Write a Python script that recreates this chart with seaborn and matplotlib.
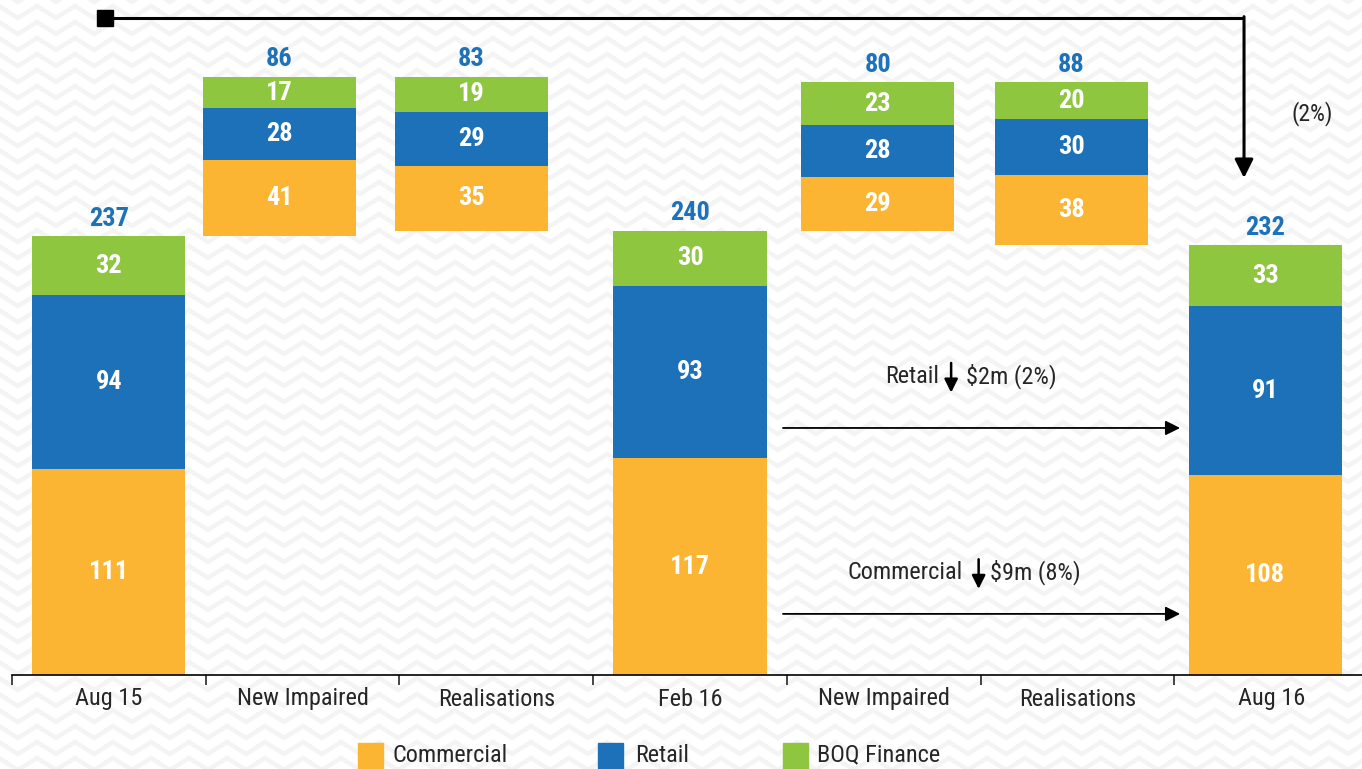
import numpy as np
import pandas as pd
import seaborn as sns
import matplotlib.pyplot as plt
from matplotlib import font_manager
from matplotlib.patches import Rectangle

steps = ["Aug 15", "New Impaired", "Realisations", "Feb 16", "New Impaired", "Realisations", "Aug 16"]
kinds = ["total", "up", "down", "total", "up", "down", "total"]
commercial = [111, 41, 35, 117, 29, 38, 108]
retail = [94, 28, 29, 93, 28, 30, 91]
boq_finance = [32, 17, 19, 30, 23, 20, 33]
totals = [237, 86, 83, 240, 80, 88, 232]

# bar centres as drawn in the slide (slightly off the tick positions)
bar_pos = [0.0, 0.88, 1.87, 3.0, 3.97, 4.97, 5.97]

segments = ["Commercial", "Retail", "BOQ Finance"]
colors = {"Commercial": "#FBB532", "Retail": "#1C71B8", "BOQ Finance": "#8EC63F"}
label_blue = "#1E72BA"

# floating base of each waterfall bar
level = 0
bases = []
for k, t in zip(kinds, totals):
    if k == "total":
        bases.append(0)
        level = t
    elif k == "up":
        bases.append(level)
        level += t
    else:
        level -= t
        bases.append(level)

rows = []
for i in range(len(steps)):
    bottom = bases[i]
    for seg, vals in zip(segments, [commercial, retail, boq_finance]):
        rows.append(dict(pos=bar_pos[i], segment=seg, value=vals[i], bottom=bottom))
        bottom += vals[i]
df = pd.DataFrame(rows)

sns.set_style("white")
names = {f.name for f in font_manager.fontManager.ttflist}
fams = [f for f in ["Roboto Condensed", "Liberation Sans Narrow", "Liberation Sans"] if f in names]
plt.rcParams["font.family"] = fams[:1] + ["DejaVu Sans"]

fig = plt.figure(figsize=(13.62, 7.69), dpi=100)

# faint chevron texture of the slide background
bg = fig.add_axes([0, 0, 1, 1], zorder=-5)
bg.set_xlim(0, 1362)
bg.set_ylim(769, 0)
bg.axis("off")
xs = np.arange(-20, 1400, 19)
for y0 in np.arange(-20, 800, 16):
    ys = y0 + np.where(np.arange(len(xs)) % 2 == 0, 6, -6)
    bg.plot(xs, ys, color="#f4f4f4", lw=3.2, solid_joinstyle="miter")

ax = fig.add_axes([12 / 1362, 94 / 769, 1356 / 1362, 675 / 769])
ax.patch.set_alpha(0)

min_gap = np.min(np.diff(bar_pos))
for seg in segments:
    sub = df[df["segment"] == seg]
    sns.barplot(data=sub, x="pos", y="value", native_scale=True, orient="x",
                bottom=sub["bottom"].to_numpy(), color=colors[seg], saturation=1,
                width=0.79 / min_gap, errorbar=None, linewidth=0, ax=ax)

for _, r in df.iterrows():
    ax.text(r["pos"], r["bottom"] + r["value"] / 2, str(r["value"]), color="white",
            fontsize=19, fontweight="bold", ha="center", va="center")

for i, t in enumerate(totals):
    ax.text(bar_pos[i], bases[i] + t + 9.5, str(t), color=label_blue, fontsize=19,
            fontweight="bold", ha="center", va="center")

ax.set_xlim(-0.5, 6.5)
ax.set_ylim(0, 364.5)
ax.set_xticks(range(len(steps)))
ax.set_xticklabels(steps, fontsize=17.5)
ax.set_xticks(np.arange(-0.5, 7, 1), minor=True)
ax.tick_params(axis="x", which="major", length=0, pad=9)
ax.tick_params(axis="x", which="minor", length=7, width=1.2, direction="out", bottom=True)
ax.set_xlabel("")
ax.set_ylabel("")
ax.set_yticks([])
for s in ["top", "right", "left"]:
    ax.spines[s].set_visible(False)
ax.spines["bottom"].set_linewidth(1.2)
ax.spines["bottom"].set_color("black")

# top connector Aug 15 -> Aug 16
ax.plot([0, 5.86], [354.7, 354.7], color="black", lw=2.2, solid_capstyle="butt")
ax.plot([-0.02], [354.7], marker="s", color="black", markersize=11)
ax.annotate("", xy=(5.86, 268.4), xytext=(5.86, 355.5),
            arrowprops=dict(arrowstyle="-|>", color="black", lw=2.2, mutation_scale=28,
                            shrinkA=0, shrinkB=0))
ax.text(6.21, 303, "(2%)", fontsize=17, ha="center", va="center")

# movement arrows
for y in [133.4, 33]:
    ax.annotate("", xy=(5.53, y), xytext=(3.48, y),
                arrowprops=dict(arrowstyle="-|>", color="black", lw=1.3, mutation_scale=22,
                                shrinkA=0, shrinkB=0))

ax.text(4.286, 161.4, "Retail", fontsize=17.5, ha="right", va="center")
ax.annotate("", xy=(4.348, 152.5), xytext=(4.348, 168.5),
            arrowprops=dict(arrowstyle="-|>", color="black", lw=1.8, mutation_scale=20,
                            shrinkA=0, shrinkB=0))
ax.text(4.425, 161.4, "$2m (2%)", fontsize=17.5, ha="left", va="center")

ax.text(4.41, 55.6, "Commercial", fontsize=17.5, ha="right", va="center")
ax.annotate("", xy=(4.49, 46.5), xytext=(4.49, 62.5),
            arrowprops=dict(arrowstyle="-|>", color="black", lw=1.8, mutation_scale=20,
                            shrinkA=0, shrinkB=0))
ax.text(4.55, 55.6, "$9m (8%)", fontsize=17.5, ha="left", va="center")

# legend along the bottom edge
for seg, x0, xt in zip(segments, [358, 598, 783], [392, 635, 817]):
    fig.patches.append(Rectangle((x0 / 1362, -0.01), 25 / 1362, 26 / 769 + 0.01,
                                 transform=fig.transFigure, color=colors[seg]))
    fig.text(xt / 1362, 14 / 769, seg, fontsize=17.5, ha="left", va="center")

fig.savefig("out.png", dpi=100)
